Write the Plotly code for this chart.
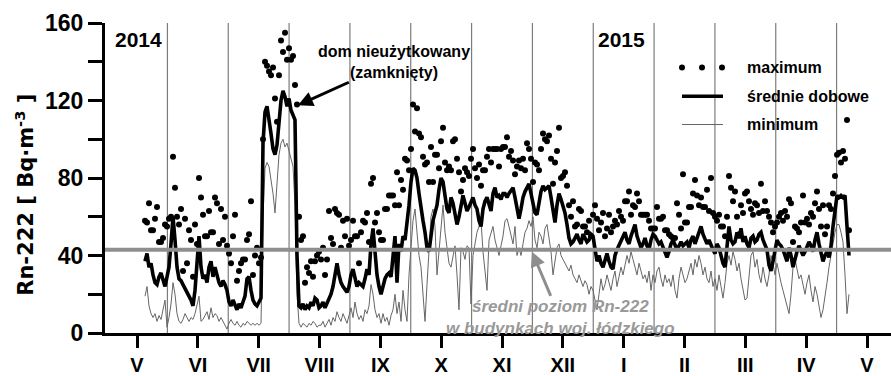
import plotly.graph_objects as go

# Rn-222 concentration, daily values, May 2014 - April 2015
# day index 0 = 1 May 2014; first measurement on day 4
START_DAY = 4
MONTH = 365 / 12
month_labels = ["V", "VI", "VII", "VIII", "IX", "X", "XI", "XII", "I", "II", "III", "IV", "V"]
ref_level = 43  # mean Rn-222 level in buildings of the Łódź voivodeship

# daily means (średnie dobowe)
mean_may = [37, 41, 34, 36, 30, 26, 25, 29, 31, 27, 24, 29, 34, 46, 60, 48, 34, 28, 27, 25, 23, 21, 20, 17, 14, 22, 36]
mean_jun = [50, 34, 28, 30, 26, 34, 37, 29, 34, 30, 26, 24, 27, 25, 22, 16, 14, 17, 14, 12, 15, 13, 16, 19, 28, 29, 22, 17, 15, 14]
mean_jul = [16, 18, 98, 114, 117, 111, 103, 95, 92, 97, 111, 120, 125, 122, 117, 121, 115, 112, 110, 40, 14, 13, 15, 12, 14, 13, 16, 14, 18, 17, 13]
mean_aug = [14, 16, 13, 15, 18, 20, 24, 30, 36, 30, 26, 24, 22, 21, 24, 30, 33, 28, 24, 26, 25, 24, 28, 33, 30, 46, 54, 40, 30, 24, 20]
mean_sep = [24, 28, 30, 31, 29, 38, 50, 26, 46, 42, 50, 48, 56, 66, 78, 85, 84, 80, 72, 63, 58, 52, 44, 42, 50, 58, 62, 66, 74, 80]
mean_oct = [78, 72, 64, 62, 70, 67, 60, 56, 60, 66, 71, 67, 63, 65, 68, 70, 66, 64, 58, 55, 64, 68, 70, 66, 63, 72, 75, 70, 71, 69, 72]
mean_nov = [72, 70, 72, 74, 75, 70, 65, 59, 64, 70, 73, 75, 77, 72, 66, 62, 61, 68, 73, 76, 74, 75, 76, 70, 64, 57, 66, 72, 69, 66]
mean_dec = [62, 56, 49, 46, 47, 49, 51, 48, 46, 51, 49, 47, 48, 51, 50, 43, 37, 40, 36, 34, 38, 41, 37, 34, 33, 40, 43, 45, 47, 49]
mean_jan = [52, 48, 46, 50, 53, 56, 50, 47, 44, 46, 49, 45, 43, 48, 51, 50, 48, 46, 47, 44, 41, 39, 42, 46, 48, 46, 43, 45, 47, 45, 46]
mean_feb = [47, 44, 48, 50, 46, 49, 52, 55, 51, 49, 46, 48, 45, 43, 41, 46, 44, 40, 36, 34, 46, 55, 48, 46, 47, 52, 49, 54, 47, 50]
mean_mar = [46, 44, 49, 50, 47, 48, 51, 52, 48, 46, 43, 35, 32, 37, 44, 48, 46, 45, 43, 40, 37, 44, 40, 34, 39, 42, 45, 43, 40, 42]
mean_apr = [44, 47, 45, 42, 48, 52, 46, 41, 37, 40, 42, 39, 45, 55, 64, 71, 70, 71, 70, 71, 55, 40]

# daily minima
min_may = [19, 24, 14, 10, 8, 10, 6, 9, 7, 12, 17, 3, 8, 15, 26, 20, 10, 6, 5, 7, 10, 8, 6, 8, 7, 10, 14]
min_jun = [19, 6, 7, 9, 11, 7, 13, 8, 10, 9, 6, 8, 6, 4, 2, 5, 7, 5, 4, 6, 4, 3, 5, 4, 6, 5, 4, 5, 4, 5]
min_jul = [4, 5, 60, 85, 88, 86, 80, 72, 62, 78, 92, 98, 100, 96, 98, 94, 90, 86, 66, 20, 5, 3, 5, 4, 3, 5, 4, 6, 5, 3, 4]
min_aug = [4, 6, 3, 5, 7, 4, 8, 6, 11, 8, 6, 10, 7, 5, 9, 13, 8, 16, 10, 7, 9, 6, 12, 10, 14, 25, 20, 12, 8, 10, 5]
min_sep = [10, 6, 8, 4, 9, 12, 20, 10, 16, 6, 22, 12, 6, 30, 47, 58, 64, 50, 40, 34, 20, 6, 25, 45, 60, 64, 55, 30, 42, 55]
min_oct = [66, 52, 44, 36, 34, 40, 45, 30, 12, 44, 42, 38, 45, 44, 15, 40, 46, 52, 55, 58, 42, 32, 22, 48, 52, 55, 48, 44, 40, 45, 50]
min_nov = [58, 59, 55, 50, 46, 55, 40, 44, 40, 46, 52, 54, 58, 55, 60, 48, 44, 52, 50, 46, 54, 56, 48, 42, 30, 38, 44, 46, 40, 38]
min_dec = [36, 34, 32, 35, 30, 28, 26, 30, 27, 24, 27, 25, 20, 24, 22, 17, 12, 20, 28, 22, 25, 30, 26, 22, 28, 32, 24, 30, 34, 30]
min_jan = [35, 40, 36, 42, 38, 34, 30, 36, 32, 28, 30, 26, 32, 22, 30, 26, 32, 34, 28, 24, 30, 26, 28, 24, 30, 22, 18, 28, 34, 30, 26]
min_feb = [28, 32, 36, 30, 38, 34, 40, 36, 30, 34, 28, 26, 32, 24, 28, 22, 30, 24, 18, 26, 36, 40, 35, 42, 38, 32, 36, 28, 22, 17]
min_mar = [18, 30, 40, 42, 34, 38, 30, 26, 34, 28, 24, 30, 40, 36, 30, 36, 30, 26, 22, 18, 14, 10, 20, 34, 38, 32, 28, 30, 24, 20]
min_apr = [26, 30, 22, 16, 24, 20, 14, 8, 12, 18, 26, 34, 40, 48, 52, 56, 56, 52, 47, 30, 10, 20]

# daily maxima
max_may = [58, 57, 67, 53, 53, 59, 65, 47, 47, 49, 56, 55, 59, 60, 91, 75, 60, 56, 64, 32, 59, 36, 53, 48, 29, 56, 46]
max_jun = [80, 70, 61, 50, 50, 63, 52, 52, 70, 67, 46, 64, 48, 60, 45, 41, 36, 50, 61, 27, 32, 36, 38, 38, 48, 51, 68, 30, 40, 44]
max_jul = [36, 39, 100, 140, 138, 135, 133, 137, 121, 109, 133, 151, 145, 155, 141, 147, 141, 143, 128, 118, 60, 48, 50, 26, 34, 31, 37, 29, 37, 40, 42]
max_aug = [38, 44, 30, 38, 63, 49, 46, 64, 62, 61, 44, 58, 50, 59, 45, 48, 58, 50, 50, 36, 52, 58, 57, 62, 47, 77, 80, 57, 62, 52, 48]
max_sep = [48, 64, 64, 71, 71, 71, 66, 83, 66, 79, 74, 90, 89, 84, 95, 118, 104, 116, 103, 101, 91, 87, 88, 78, 96, 78, 92, 92, 85, 99]
max_oct = [106, 88, 84, 86, 84, 99, 100, 90, 83, 73, 79, 85, 83, 81, 90, 95, 85, 80, 87, 76, 84, 84, 91, 95, 88, 95, 95, 95, 86, 95, 96]
max_nov = [96, 101, 91, 94, 89, 82, 86, 89, 85, 90, 84, 98, 95, 90, 78, 88, 87, 84, 95, 103, 100, 99, 102, 90, 77, 88, 94, 106, 80, 81]
max_dec = [83, 76, 66, 60, 68, 55, 56, 64, 63, 55, 55, 52, 58, 50, 61, 66, 59, 53, 57, 62, 50, 54, 61, 52, 55, 58, 56, 63, 60, 58]
max_jan = [68, 68, 73, 61, 66, 65, 72, 68, 61, 61, 61, 61, 58, 54, 54, 54, 65, 59, 59, 60, 53, 53, 51, 50, 49, 49, 67, 61, 54, 82, 57]
max_feb = [57, 65, 65, 72, 79, 71, 66, 70, 65, 65, 74, 63, 80, 62, 60, 58, 61, 55, 55, 50, 60, 81, 75, 68, 73, 60, 51, 66, 62, 72]
max_mar = [73, 68, 64, 61, 67, 66, 62, 77, 63, 68, 63, 60, 57, 52, 55, 57, 60, 62, 58, 63, 60, 69, 67, 47, 55, 54, 52, 57, 71, 57]
max_apr = [59, 56, 62, 60, 67, 73, 64, 55, 66, 51, 55, 66, 64, 72, 81, 92, 93, 88, 94, 90, 110, 53]

daily_mean = (mean_may + mean_jun + mean_jul + mean_aug + mean_sep + mean_oct
              + mean_nov + mean_dec + mean_jan + mean_feb + mean_mar + mean_apr)
daily_min = (min_may + min_jun + min_jul + min_aug + min_sep + min_oct
             + min_nov + min_dec + min_jan + min_feb + min_mar + min_apr)
daily_max = (max_may + max_jun + max_jul + max_aug + max_sep + max_oct
             + max_nov + max_dec + max_jan + max_feb + max_mar + max_apr)


def day_axis(values):
    return list(range(START_DAY, START_DAY + len(values)))


FONT = "Liberation Sans, Arial, sans-serif"
WIDE_FONT = "DejaVu Sans, sans-serif"
GRAY_LINE = "#7c7c7c"
REF_GRAY = "#8e8e8e"
MIN_GRAY = "#666666"

fig = go.Figure()
fig.add_trace(go.Scatter(x=day_axis(daily_min), y=daily_min, mode="lines",
                         line=dict(color=MIN_GRAY, width=1), name="minimum"))
fig.add_trace(go.Scatter(x=day_axis(daily_mean), y=daily_mean, mode="lines",
                         line=dict(color="black", width=3.6), name="średnie dobowe"))
fig.add_trace(go.Scatter(x=day_axis(daily_max), y=daily_max, mode="markers",
                         marker=dict(color="black", size=6), name="maximum"))

# mid-month separators
for k in range(12):
    xm = (k + 0.5) * MONTH
    fig.add_shape(type="line", x0=xm, x1=xm, y0=0, y1=160, xref="x", yref="y",
                  line=dict(color=GRAY_LINE, width=1.2), layer="below")

# regional reference level
fig.add_shape(type="line", x0=0, x1=1, xref="paper", y0=ref_level, y1=ref_level, yref="y",
              line=dict(color=REF_GRAY, width=4), layer="above")

# year labels
fig.add_annotation(x=0.5, y=151.5, text="2014", showarrow=False,
                   font=dict(family=FONT, size=21, color="black", weight="bold"))
fig.add_annotation(x=242, y=151.5, text="2015", showarrow=False,
                   font=dict(family=FONT, size=21, color="black", weight="bold"))

# closed-house period, arrow drawn from the label to the July peak
fig.add_annotation(x=80.5, y=117.5, ax=128.5, ay=140, axref="x", ayref="y",
                   text="dom nieużytkowany<br>(zamknięty)", showarrow=True,
                   arrowhead=2, arrowsize=1, arrowwidth=3, arrowcolor="black",
                   font=dict(family=FONT, size=16, color="black", weight="bold"))

# reference level label with arrow to the line
fig.add_annotation(x=197.5, y=42, ax=211.5, ay=7.8, axref="x", ayref="y",
                   text="<i>średni poziom Rn-222<br>w budynkach woj. łódzkiego</i>",
                   showarrow=True, arrowhead=2, arrowsize=1, arrowwidth=3, arrowcolor=REF_GRAY,
                   font=dict(family=FONT, size=17, color="#999999", weight="bold"))

# legend keys
for xd in (272.5, 282.5, 292.5):
    fig.add_shape(type="circle", xref="x", yref="y", xsizemode="pixel", ysizemode="pixel",
                  xanchor=xd, yanchor=137, x0=-3, x1=3, y0=-3, y1=3,
                  fillcolor="black", line=dict(width=0))
fig.add_shape(type="line", x0=272.5, x1=293, y0=122.2, y1=122.2, xref="x", yref="y",
              line=dict(color="black", width=3.6))
fig.add_shape(type="line", x0=272.5, x1=293, y0=107.6, y1=107.6, xref="x", yref="y",
              line=dict(color=MIN_GRAY, width=1))
for label, yv in (("maximum", 137), ("średnie dobowe", 122.2), ("minimum", 107.6)):
    fig.add_annotation(x=304, y=yv, text=label, showarrow=False, xanchor="left",
                       font=dict(family=FONT, size=16, color="black", weight="bold"))

# y-axis title
fig.add_annotation(xref="paper", yref="paper", x=-0.1225, y=0.445,
                   text="Rn-222 [ Bq·m<sup>-3</sup> ]", textangle=-90, showarrow=False,
                   font=dict(family=WIDE_FONT, size=21, color="black", weight="bold"))

fig.update_xaxes(range=[-16, 377], showline=True, linewidth=3, linecolor="black",
                 ticks="outside", ticklen=12, tickwidth=3, tickcolor="black",
                 tickvals=[k * MONTH for k in range(13)], ticktext=month_labels,
                 tickfont=dict(family=FONT, size=20, color="black", weight="bold"),
                 showgrid=False, zeroline=False)
fig.update_yaxes(range=[0, 160], showline=True, linewidth=3, linecolor="black",
                 ticks="outside", ticklen=14, tickwidth=2.5, tickcolor="black",
                 tickvals=[0, 40, 80, 120, 160],
                 tickfont=dict(family=FONT, size=23, color="black", weight="bold"),
                 minor=dict(tickvals=[20, 60, 100, 140], ticks="outside", ticklen=14,
                            tickwidth=2.5, tickcolor="black", showgrid=False),
                 showgrid=False, zeroline=False)

fig.update_layout(width=891, height=376, margin=dict(l=105, r=0, t=23, b=36),
                  plot_bgcolor="white", paper_bgcolor="white", showlegend=False)

fig.write_html("out.html")
